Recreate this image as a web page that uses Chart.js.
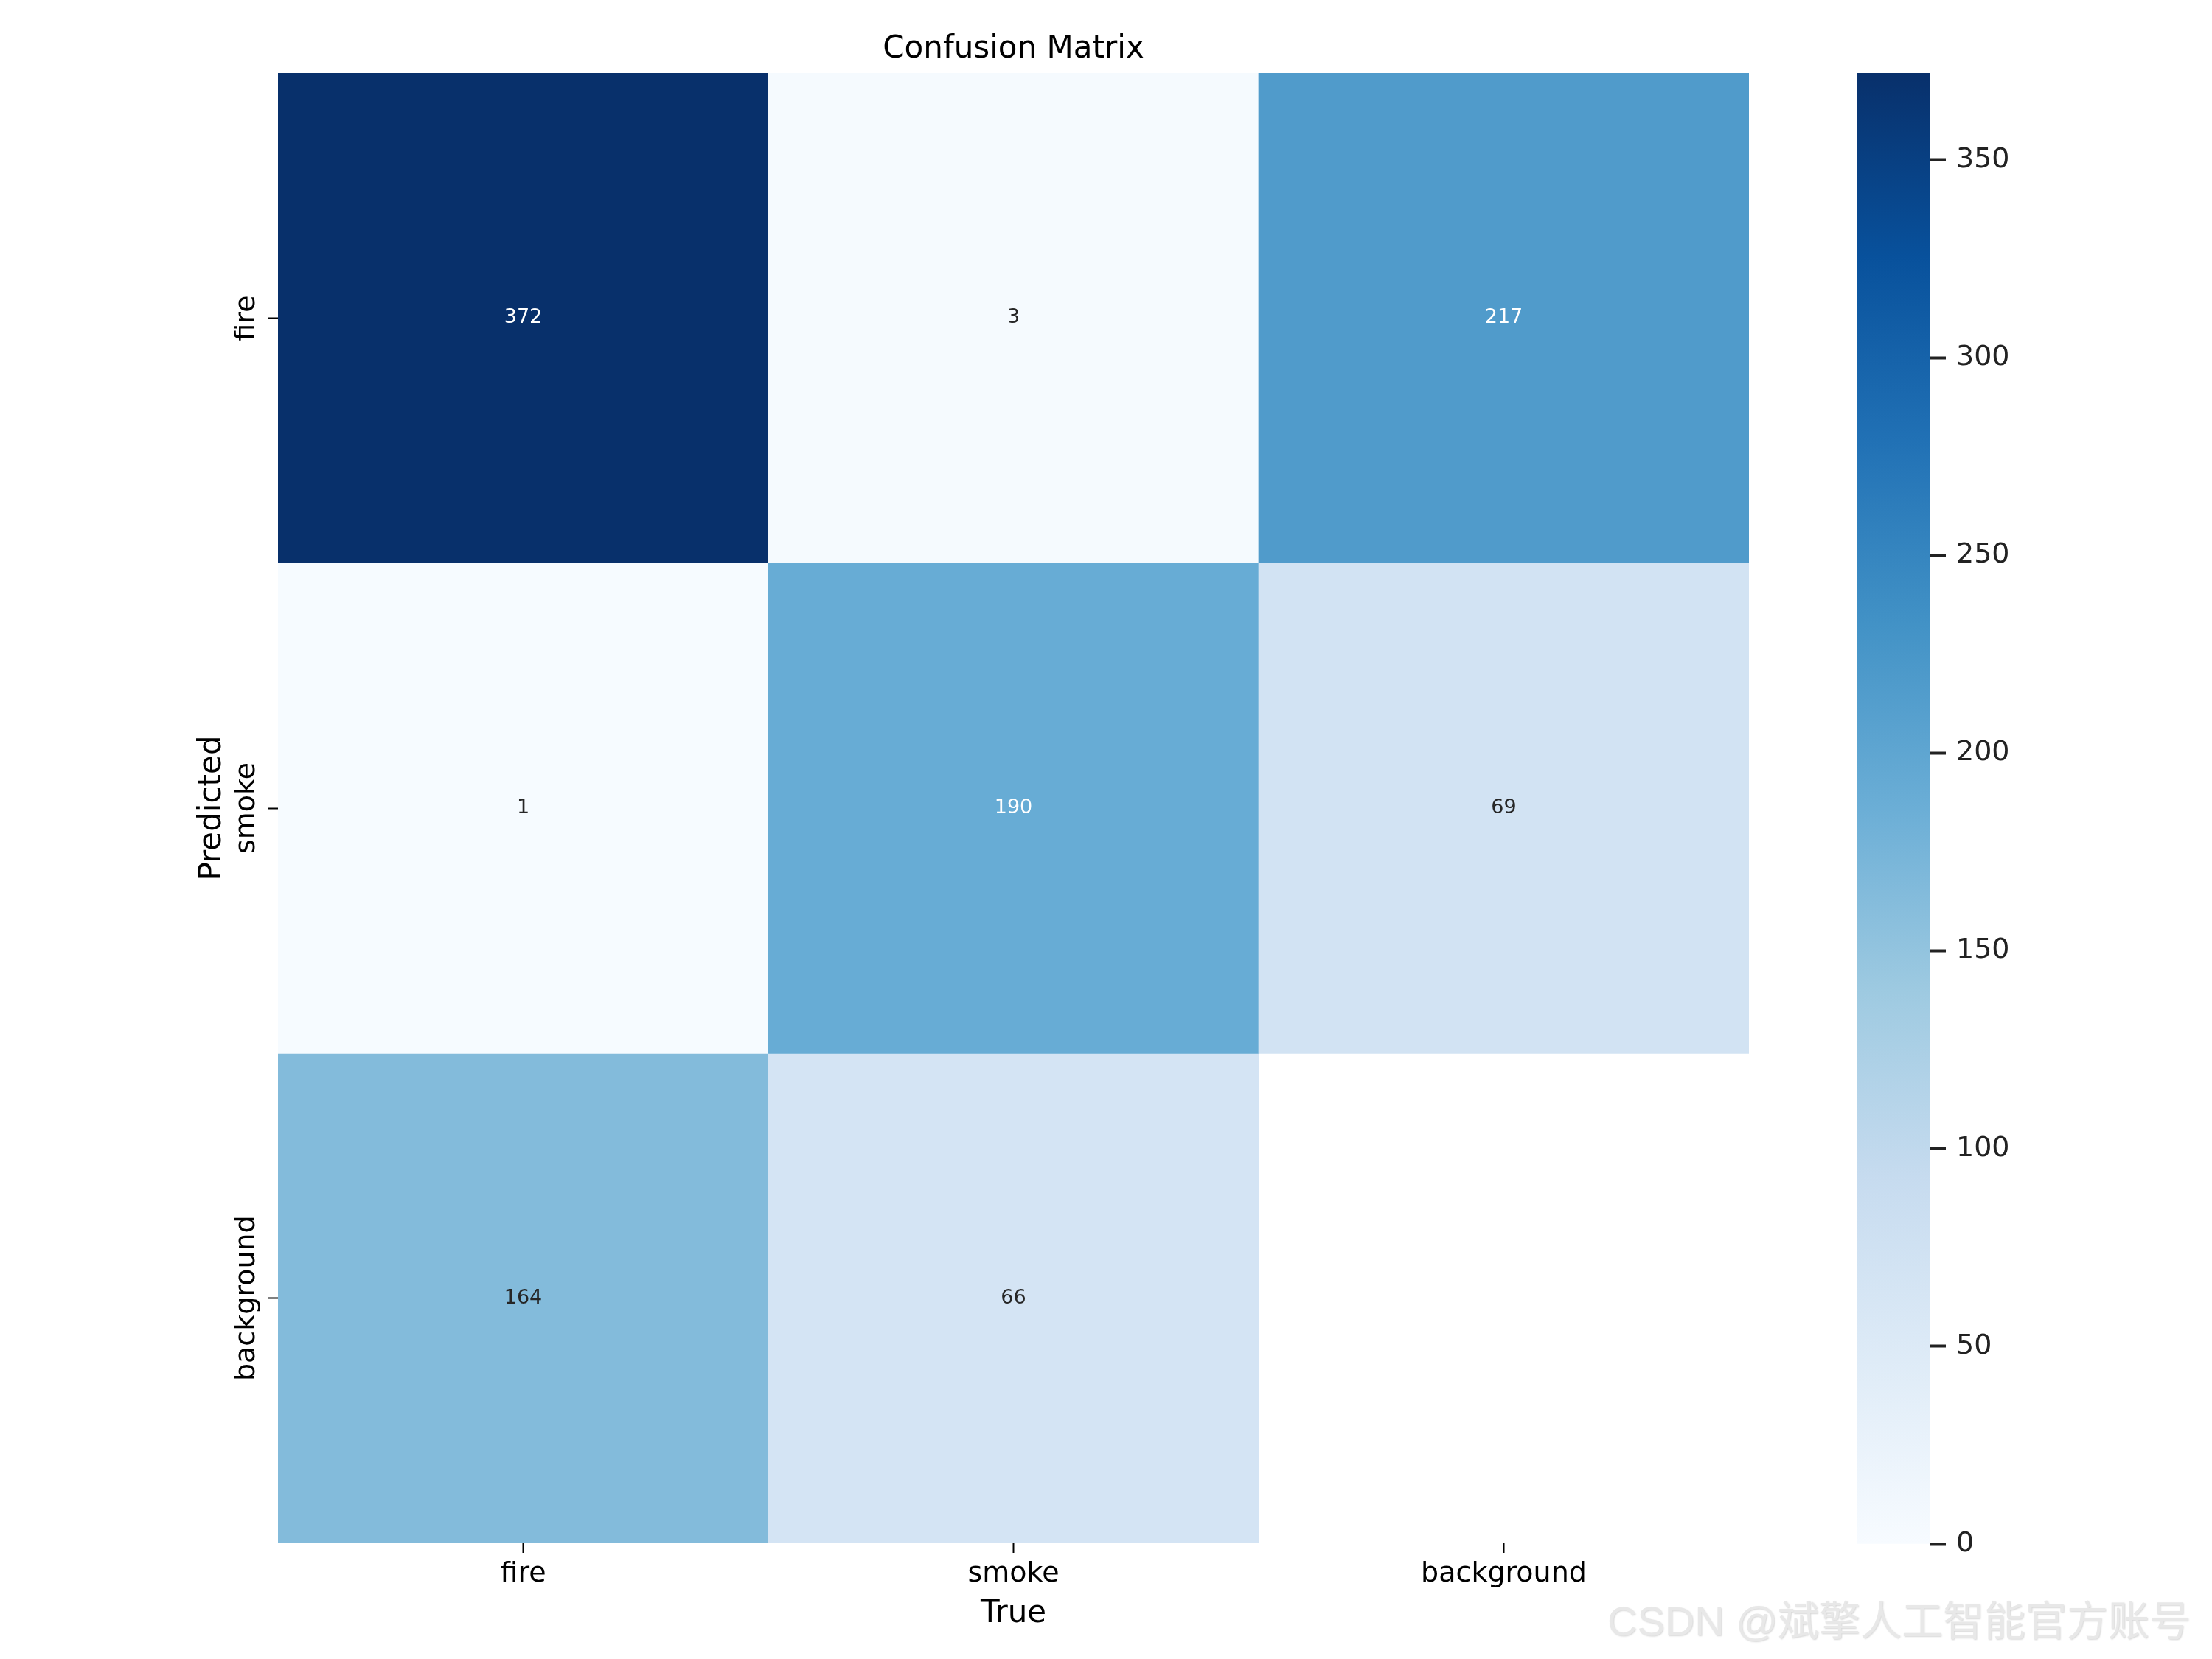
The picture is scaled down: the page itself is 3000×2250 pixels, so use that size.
<!DOCTYPE html>
<html>
<head>
<meta charset="utf-8">
<script src="https://cdn.jsdelivr.net/npm/chart.js@4.4.1/dist/chart.umd.min.js"></script>
<style>
html, body { margin: 0; padding: 0; background: #fff; }
#wrap { position: relative; width: 3000px; height: 2250px; }
#main { position: absolute; left: 0; top: 0; }
#cbar { position: absolute; left: 2519px; top: 0; }
</style>
</head>
<body>
<div id="wrap">
<canvas id="main" width="3000" height="2250"></canvas>
<canvas id="cbar" width="420" height="2250"></canvas>
</div>
<script>
// categories (columns = true class, rows = predicted class)
const trueLabels = ["fire", "smoke", "background"];
const predLabels = ["fire", "smoke", "background"];
// counts, one row per predicted class; null = masked cell (drawn white)
const rowFire = [372, 3, 217];
const rowSmoke = [1, 190, 69];
const rowBackground = [164, 66, null];
const rows = [rowFire, rowSmoke, rowBackground];
const cbarTicks = [0, 50, 100, 150, 200, 250, 300, 350];

const VMAX = Math.max(...rows.flat().filter(v => v !== null));
const FONT = "'DejaVu Sans', sans-serif";

// matplotlib "Blues"
const BLUES = ["#f7fbff", "#deebf7", "#c6dbef", "#9ecae1", "#6baed6", "#4292c6", "#2171b5", "#08519c", "#08306b"];

function hexRgb(h) {
    return [parseInt(h.slice(1, 3), 16), parseInt(h.slice(3, 5), 16), parseInt(h.slice(5, 7), 16)];
}
function blues(t) {
    t = Math.min(1, Math.max(0, t));
    const pos = t * (BLUES.length - 1);
    const i = Math.min(BLUES.length - 2, Math.floor(pos));
    const f = pos - i;
    const a = hexRgb(BLUES[i]), b = hexRgb(BLUES[i + 1]);
    return a.map((c, k) => Math.round(c + (b[k] - c) * f));
}
function rgbStr(c) { return "rgb(" + c[0] + "," + c[1] + "," + c[2] + ")"; }
//same rule seaborn uses to pick the annotation colour
function textColorFor(c) {
    const lin = c.map(v => { v = v / 255; return v <= 0.03928 ? v / 12.92 : Math.pow((v + 0.055) / 1.055, 2.4); });
    const lum = 0.2126 * lin[0] + 0.7152 * lin[1] + 0.0722 * lin[2];
    return lum > 0.408 ? "#262626" : "#ffffff";
}

const datasets = rows.map(function (row, r) {
    return {
        label: predLabels[r],
        data: row.map(v => v === null ? null : [r, r + 1]),
        counts: row,
        backgroundColor: row.map(v => v === null ? "rgba(0,0,0,0)" : rgbStr(blues(v / VMAX))),
        borderWidth: 0,
        grouped: false,
        barPercentage: 1,
        categoryPercentage: 1
    };
});

const heatLabels = {
    id: "heatLabels",
    afterDatasetsDraw(chart) {
        const ctx = chart.ctx;
        ctx.save();
        ctx.font = "27px " + FONT;
        ctx.textAlign = "center";
        ctx.textBaseline = "middle";
        chart.data.datasets.forEach(function (ds, di) {
            const meta = chart.getDatasetMeta(di);
            meta.data.forEach(function (bar, i) {
                const v = ds.counts[i];
                if (v === null) return;
                const p = bar.getProps(["x", "y", "base"], true);
                ctx.fillStyle = textColorFor(blues(v / VMAX));
                ctx.fillText(String(v), p.x, (p.y + p.base) / 2);
            });
        });
        ctx.restore();
    },
    afterDraw(chart) {
        const ctx = chart.ctx;
        const area = chart.chartArea;
        const yScale = chart.scales.y;
        ctx.save();
        // title
        ctx.fillStyle = "#000";
        ctx.font = "42px " + FONT;
        ctx.textAlign = "center";
        ctx.textBaseline = "alphabetic";
        ctx.fillText("Confusion Matrix", (area.left + area.right) / 2, 78);
        // rotated y tick labels
        ctx.font = "38px " + FONT;
        predLabels.forEach(function (lab, i) {
            const y = yScale.getPixelForValue(i + 0.5);
            ctx.save();
            ctx.translate(345, y);
            ctx.rotate(-Math.PI / 2);
            ctx.fillText(lab, 0, 0);
            ctx.restore();
        });
        // y axis title
        ctx.font = "42px " + FONT;
        ctx.save();
        ctx.translate(299, (area.top + area.bottom) / 2);
        ctx.rotate(-Math.PI / 2);
        ctx.fillText("Predicted", 0, 0);
        ctx.restore();
        // watermark
        ctx.font = "56px 'Liberation Sans', 'Noto Sans CJK SC', sans-serif";
        ctx.textAlign = "left";
        ctx.shadowColor = "rgba(0,0,0,0.16)";
        ctx.shadowOffsetX = 1;
        ctx.shadowOffsetY = 1;
        ctx.shadowBlur = 2;
        ctx.fillStyle = "#e8e8e8";
        ctx.fillText("CSDN @斌擎人工智能官方账号", 2180, 2218);
        ctx.restore();
    }
};

const mainChart = new Chart(document.getElementById("main").getContext("2d"), {
    type: "bar",
    data: { labels: trueLabels, datasets: datasets },
    options: {
        responsive: false,
        animation: false,
        devicePixelRatio: 1,
        layout: { padding: { top: 99, right: 628, left: 0, bottom: 0 } },
        plugins: { legend: { display: false }, tooltip: { enabled: false }, title: { display: false } },
        scales: {
            x: {
                type: "category",
                offset: true,
                border: { display: false },
                grid: { drawOnChartArea: false, drawTicks: true, tickLength: 13, tickWidth: 2, tickColor: "#000", offset: false },
                ticks: { color: "#000", font: { family: FONT, size: 38 }, padding: 6, maxRotation: 0 },
                title: { display: true, text: "True", color: "#000", font: { family: FONT, size: 42 }, padding: { top: 0, bottom: 36 } },
                afterFit(scale) { scale.height = 157; }
            },
            y: {
                type: "linear",
                min: 0,
                max: predLabels.length,
                reverse: true,
                border: { display: false },
                grid: { drawOnChartArea: false, drawTicks: true, tickLength: 13, tickWidth: 2, tickColor: "#000" },
                ticks: { display: false },
                afterBuildTicks(scale) { scale.ticks = predLabels.map((_, i) => ({ value: i + 0.5 })); },
                afterFit(scale) { scale.width = 377; }
            }
        }
    },
    plugins: [heatLabels]
});

// colour bar: one floating bar from 0 to the max count, filled with the Blues gradient
const cbarChart = new Chart(document.getElementById("cbar").getContext("2d"), {
    type: "bar",
    data: {
        labels: [""],
        datasets: [{
            data: [[0, VMAX]],
            borderWidth: 0,
            barPercentage: 1,
            categoryPercentage: 1,
            backgroundColor(context) {
                const chart = context.chart;
                const area = chart.chartArea;
                if (!area) return BLUES[0];
                const g = chart.ctx.createLinearGradient(0, area.bottom, 0, area.top);
                BLUES.forEach((c, i) => g.addColorStop(i / (BLUES.length - 1), c));
                return g;
            }
        }]
    },
    options: {
        responsive: false,
        animation: false,
        devicePixelRatio: 1,
        layout: { padding: { top: 99, bottom: 156, left: 0, right: 0 } },
        plugins: { legend: { display: false }, tooltip: { enabled: false } },
        scales: {
            x: { display: false, offset: true },
            y: {
                position: "right",
                min: 0,
                max: VMAX,
                border: { display: false },
                grid: { drawOnChartArea: false, drawTicks: true, tickLength: 21, tickWidth: 4, tickColor: "#222" },
                ticks: { color: "#222", font: { family: FONT, size: 38 }, padding: 14 },
                afterBuildTicks(scale) { scale.ticks = cbarTicks.map(v => ({ value: v })); },
                afterFit(scale) { scale.width = 420 - 99; }
            }
        }
    }
});
</script>
</body>
</html>
